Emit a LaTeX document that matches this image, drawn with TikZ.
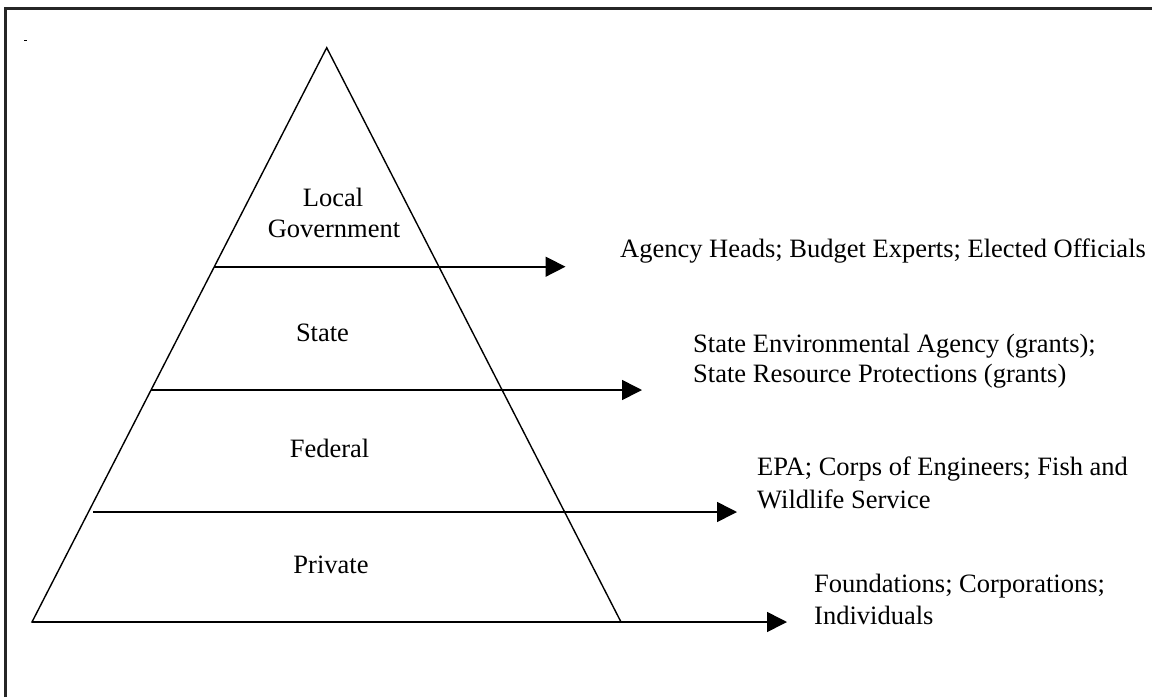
\documentclass[tikz,border=0pt]{standalone}
\usepackage{fontspec}
\setmainfont{Liberation Serif}
\usetikzlibrary{arrows.meta}
\begin{document}
\begin{tikzpicture}[x=1pt,y=-1pt,
  lbl/.style={inner sep=0pt,font=\fontsize{26.5}{31}\selectfont},
  edge/.style={line width=1.4pt},
  flow/.style={line width=1.6pt,-{Triangle[length=20pt,width=20pt]}}]
\useasboundingbox (0,0) rectangle (1152,697);
\fill[white] (0,0) rectangle (1152,697);
% frame
\draw[line width=2.6pt,black!85] (5.5,697) -- (5.5,8.5) -- (1152,8.5);
\draw[line width=0.6pt] (24,40) -- (26.5,40);
% pyramid
\coordinate (apex) at (326.7,47.7);
\coordinate (bl) at (32,622);
\coordinate (br) at (621,622);
\draw[edge,line join=miter] (apex) -- (bl) -- (br) -- cycle;
\draw[line width=2pt] (bl) -- (br);
% divider lines with arrows
\coordinate (l1) at (214,266.7);
\coordinate (t1) at (565.5,266.7);
\coordinate (l2) at (151,390);
\coordinate (t2) at (642,390);
\coordinate (l3) at (93,512);
\coordinate (t3) at (737,512);
\coordinate (t4) at (787,622);
\draw[flow] (l1) -- (t1);
\draw[flow] (l2) -- (t2);
\draw[flow] (l3) -- (t3);
\draw[flow] (br) -- (t4);
% level labels
\node[lbl,anchor=base] (local) at (333,206) {Local};
\node[lbl,anchor=base] (gov) at (334,237) {Government};
\node[lbl,anchor=base] (state) at (322.5,341) {State};
\node[lbl,anchor=base] (federal) at (329.5,457) {Federal};
\node[lbl,anchor=base] (private) at (331,573) {Private};
% side labels
\node[lbl,anchor=base west] (agency) at (620,257) {Agency Heads; Budget Experts; Elected Officials};
\node[lbl,anchor=base west] (stenv) at (693,352) {State Environmental Agency (grants);};
\node[lbl,anchor=base west] (stres) at (693,382) {State Resource Protections (grants)};
\node[lbl,anchor=base west] (epa) at (757,475) {EPA; Corps of Engineers; Fish and};
\node[lbl,anchor=base west] (wild) at (757,508) {Wildlife Service};
\node[lbl,anchor=base west] (found) at (814,592) {Foundations; Corporations;};
\node[lbl,anchor=base west] (indiv) at (814,624) {Individuals};
\end{tikzpicture}
\end{document}
